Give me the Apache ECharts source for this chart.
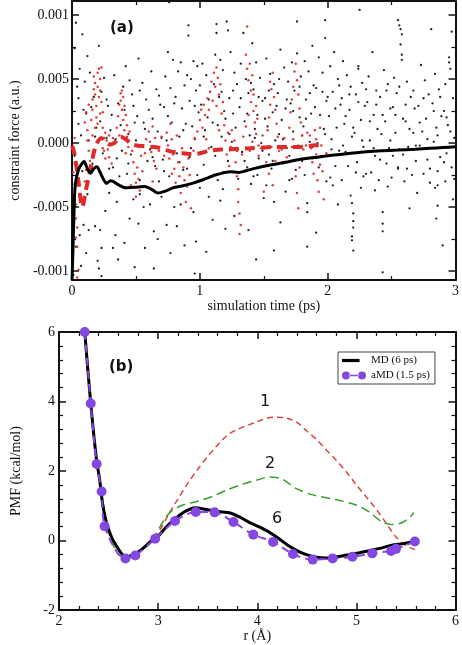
<!DOCTYPE html>
<html><head><meta charset="utf-8">
<script src="https://cdn.jsdelivr.net/npm/echarts@6/dist/echarts.min.js"></script>
<style>html,body{margin:0;padding:0;background:#fff}#c{width:462px;height:645px}</style>
</head><body><div id="c"></div>
<script>
// ---------- Panel (a): simulation time (ps) vs constraint force (values in 1e-3 a.u.) ----------
const timeTicks = [0, 1, 2, 3];
const forceTickValues = [-10, -5, 0, 5, 10];
const forceTickLabels = ['-0.001', '-0.005', '0.000', '0.005', '0.001'];
const forceMinorTicks = [-7.5, -2.5, 2.5, 7.5];

// MD instantaneous constraint force (black dots) [t, force]
const mdDots = [
[0.03,9.4],[0.08,8.5],[0.02,7.4],[0.06,5.8],[0.04,4.4],[0.09,2.6],[0.05,1.5],[0.07,0.6],[0.02,-1.0],[0.08,-2.2],[0.05,-3.0],[0.09,-6.4],[0.06,-7.2],[0.03,-8.1],[0.07,-9.6],[0.01,-10.3],
[0.12,6.8],[0.14,5.5],[0.17,3.6],[0.11,2.3],[0.19,1.2],[0.13,0.2],[0.16,-1.6],[0.12,-4.0],[0.13,-6.8],[0.18,-6.5],[0.11,-8.6],[0.2,-9.2],
[0.21,7.6],[0.25,5.1],[0.23,4.0],[0.28,2.9],[0.22,1.7],[0.27,0.4],[0.24,-0.8],[0.29,-2.0],[0.29,-3.9],[0.26,-5.3],[0.22,-6.8],[0.23,-8.2],[0.21,-9.8],[0.23,-10.4],
[0.33,5.3],[0.36,3.1],[0.31,2.2],[0.38,1.4],[0.34,0.3],[0.39,-0.6],[0.32,-1.9],[0.37,-2.6],[0.35,-4.6],[0.34,-7.2],[0.32,-8.2],[0.36,-9.1],
[0.42,6.0],[0.45,4.9],[0.47,3.8],[0.41,2.6],[0.49,1.6],[0.44,0.7],[0.46,-0.9],[0.43,-2.4],[0.48,-4.4],[0.45,-5.9],[0.41,-7.8],[0.49,-9.7],
[0.52,6.6],[0.55,4.7],[0.58,3.4],[0.51,2.1],[0.57,1.1],[0.54,-0.2],[0.59,-1.4],[0.53,-2.9],[0.56,-5.0],[0.57,-8.2],[0.52,-6.3],
[0.62,5.6],[0.66,4.2],[0.69,3.0],[0.63,1.9],[0.67,0.9],[0.61,-0.5],[0.65,-1.8],[0.68,-3.0],[0.64,-6.9],[0.67,-7.5],[0.64,-9.8],[0.61,-4.8],
[0.76,11.0],[0.75,7.1],[0.79,6.5],[0.73,5.2],[0.77,4.3],[0.72,2.8],[0.78,1.6],[0.74,0.2],[0.71,-1.3],[0.76,-2.6],[0.8,-5.0],[0.74,-6.4],[0.77,-8.6],
[0.85,6.3],[0.83,5.6],[0.88,4.5],[0.81,3.6],[0.86,2.7],[0.89,1.5],[0.84,0.5],[0.82,-0.8],[0.87,-2.1],[0.85,-4.8],[0.82,-6.5],[0.88,-8.0],
[0.91,9.2],[0.91,8.4],[0.95,6.4],[0.98,6.0],[0.93,5.0],[0.97,4.1],[0.92,3.3],[0.99,2.4],[0.94,1.3],[0.96,0.3],[0.92,-1.1],[0.98,-2.5],[0.95,-5.4],[0.97,-7.7],[0.96,-10.2],
[1.02,6.2],[1.05,5.3],[1.08,4.0],[1.01,3.0],[1.06,2.0],[1.04,1.0],[1.09,-0.3],[1.03,-1.7],[1.07,-4.2],[1.05,-8.5],[1.1,-6.0],
[1.13,9.3],[1.13,8.6],[1.12,6.9],[1.16,6.5],[1.18,5.7],[1.11,4.6],[1.15,3.6],[1.19,2.5],[1.14,1.4],[1.17,0.5],[1.12,-1.0],[1.18,-2.3],[1.16,-4.5],[1.2,-6.7],
[1.21,9.5],[1.22,8.8],[1.24,7.1],[1.27,5.5],[1.29,4.6],[1.23,3.5],[1.26,2.3],[1.28,1.2],[1.25,0.1],[1.22,-1.4],[1.3,-2.8],[1.27,-5.7],
[1.34,8.6],[1.32,6.2],[1.36,5.0],[1.38,3.9],[1.31,2.8],[1.35,1.7],[1.39,0.6],[1.33,-0.7],[1.37,-1.9],[1.4,-3.2],[1.38,-6.8],
[1.41,7.8],[1.44,6.3],[1.47,5.1],[1.42,4.2],[1.49,3.3],[1.45,2.2],[1.43,1.1],[1.48,0.0],[1.46,-1.2],[1.42,-2.6],[1.5,-4.3],[1.44,-9.1],
[1.52,6.6],[1.55,5.4],[1.58,4.6],[1.51,3.5],[1.57,2.4],[1.53,1.3],[1.59,0.2],[1.54,-0.9],[1.56,-2.0],[1.58,-4.6],[1.58,-8.4],[1.52,-3.3],
[1.63,7.3],[1.66,5.9],[1.69,4.8],[1.61,3.9],[1.67,2.7],[1.64,1.8],[1.62,0.7],[1.68,-0.4],[1.65,-1.6],[1.7,-2.9],[1.63,-6.2],
[1.76,9.5],[1.76,7.0],[1.72,6.3],[1.79,5.2],[1.74,4.1],[1.71,3.1],[1.78,2.0],[1.73,0.9],[1.77,-0.2],[1.8,-1.4],[1.72,-2.8],
[1.88,7.6],[1.82,6.4],[1.85,5.6],[1.89,4.5],[1.83,3.4],[1.87,2.3],[1.81,1.3],[1.86,0.1],[1.84,-4.7],[1.84,-5.4],[1.84,-8.1],[1.88,-1.2],[1.82,-2.5],
[1.98,9.6],[1.98,8.2],[1.93,6.7],[1.96,5.5],[1.91,4.3],[1.99,3.3],[1.94,2.2],[1.97,1.1],[1.92,0.0],[1.95,-1.0],[1.91,-7.0],[1.99,-3.0],
[2.05,7.1],[2.02,6.0],[2.08,5.0],[2.04,4.0],[2.1,3.0],[2.01,2.1],[2.07,1.2],[2.03,0.3],[2.09,-0.6],[2.06,-1.8],[2.02,-2.7],[2.08,-4.8],
[2.12,6.4],[2.15,5.3],[2.18,4.4],[2.11,3.5],[2.17,2.6],[2.13,1.5],[2.19,0.5],[2.14,-0.7],[2.16,-1.8],[2.18,-4.1],[2.19,-4.7],[2.2,-5.5],[2.2,-6.1],[2.2,-6.6],[2.19,-7.3],[2.19,-7.6],[2.2,-8.4],[2.11,-2.9],
[2.25,10.4],[2.24,6.0],[2.24,5.8],[2.27,4.7],[2.22,3.8],[2.29,2.9],[2.26,1.8],[2.21,0.8],[2.28,-0.3],[2.23,-1.5],[2.3,-2.4],[2.26,-3.5],
[2.35,7.1],[2.32,5.2],[2.38,4.1],[2.31,3.2],[2.36,2.2],[2.39,1.1],[2.33,0.2],[2.37,-1.0],[2.34,-2.3],[2.37,-3.7],[2.4,-2.9],
[2.44,5.7],[2.47,4.6],[2.41,3.6],[2.49,2.7],[2.45,1.7],[2.42,0.7],[2.48,-0.4],[2.46,-1.6],[2.43,-5.4],[2.43,-6.3],[2.43,-6.9],[2.43,-10.1],[2.5,-2.7],
[2.55,9.6],[2.56,9.2],[2.57,8.9],[2.58,8.5],[2.57,7.7],[2.58,6.9],[2.58,6.5],[2.52,5.1],[2.54,3.9],[2.51,2.8],[2.59,1.9],[2.53,0.8],[2.56,-0.5],[2.55,-1.9],[2.55,-2.0],[2.6,-3.0],
[2.62,4.8],[2.65,3.6],[2.68,2.7],[2.61,1.7],[2.67,0.8],[2.63,-0.3],[2.69,-1.4],[2.66,-2.5],[2.7,-3.9],[2.64,-5.1],
[2.73,6.1],[2.76,4.9],[2.79,3.8],[2.71,2.9],[2.77,1.9],[2.74,0.9],[2.72,-0.2],[2.78,-1.3],[2.75,-2.4],[2.8,-3.1],
[2.81,8.9],[2.84,5.4],[2.87,4.2],[2.82,3.1],[2.89,2.1],[2.85,1.2],[2.83,0.1],[2.88,-1.1],[2.86,-2.2],[2.84,-3.5],[2.86,-3.3],[2.86,-4.9],[2.85,-5.9],[2.9,-8.0],
[2.97,8.7],[2.95,6.7],[2.95,6.3],[2.96,5.8],[2.92,4.6],[2.98,3.5],[2.91,2.5],[2.94,1.4],[2.99,0.4],[2.93,-0.8],[2.97,-1.9],[2.92,-3.0],[2.98,-4.4],
[0.05,3.5],[0.1,4.8],[0.15,2.8],[0.18,0.5],[0.27,3.4],[0.3,1.0],[0.35,-1.2],[0.4,4.4],[0.44,-1.6],[0.48,2.9],[0.5,0.2],[0.53,4.1],[0.56,1.6],[0.6,2.6],[0.63,-1.1],[0.68,3.7],[0.7,0.4],[0.72,-2.2],[0.75,2.1],[0.8,3.1],[0.84,-1.5],[0.87,1.0],[0.9,5.3],[0.93,-0.4],[0.96,2.9],[1.0,4.5],[1.03,0.5],[1.07,3.4],[1.1,1.6],[1.14,-2.9],[1.17,4.0],[1.2,1.9],[1.23,0.7],[1.26,4.1],[1.29,-0.6],[1.32,3.5],[1.35,-1.4],[1.37,2.3],[1.4,4.7],[1.43,0.4],[1.46,3.6],[1.49,-0.6],[1.51,1.9],[1.54,4.1],[1.57,-1.4],[1.6,2.9],[1.62,5.0],[1.65,0.3],[1.68,3.4],[1.7,-1.0],[1.73,2.5],[1.75,-2.1],[1.78,4.4],[1.8,0.6],[1.83,1.9],[1.86,3.9],[1.88,-0.3],[1.9,2.8],[1.93,-1.9],[1.96,4.0],[1.98,0.7],[2.0,3.6],[2.03,-0.5],[2.06,2.7],[2.09,4.5],[2.12,-0.2],[2.14,2.1],[2.17,3.8],[2.2,1.2],[2.22,-2.3],[2.24,3.2],[2.27,0.2],[2.3,4.2],[2.33,1.7],[2.36,-0.4],[2.38,3.0],[2.41,-1.3],[2.43,2.2],[2.46,4.1],[2.49,0.2],[2.51,-1.0],[2.53,2.2],[2.56,4.4],[2.59,-0.9],[2.61,3.0],[2.64,1.1],[2.67,4.1],[2.69,-0.2],[2.72,1.6],[2.75,3.5],[2.78,0.3],[2.8,-2.0],[2.83,2.5],[2.86,0.6],[2.88,3.6],[2.91,-1.5],[2.93,2.0],[2.96,0.9],[2.99,-2.8],[2.62,-2.0],[2.47,-3.4],[2.28,-2.6],[2.04,-3.3],[1.67,-3.8],[1.45,-2.5],[1.18,-3.6],[1.0,-3.5],[0.9,-2.0],[0.7,-4.2],[0.53,-4.0]
];

// aMD instantaneous constraint force (red dots) [t, force]
const amdDots = [
[0.01,-0.8],[0.02,-1.6],[0.02,-3.2],[0.03,-4.8],[0.03,-5.9],[0.04,-6.6],[0.03,-7.4],[0.04,-8.1],[0.05,-9.9],[0.04,-10.5],[0.02,0.4],[0.01,-2.3],
[0.10,1.6],[0.11,2.4],[0.12,1.0],[0.12,0.2],[0.13,-0.6],[0.14,-1.4],[0.11,-2.1],[0.13,3.0],[0.10,-3.0],
[0.15,1.8],[0.16,2.6],[0.16,3.4],[0.17,4.2],[0.17,5.2],[0.18,4.7],[0.18,3.8],[0.19,2.9],[0.19,2.0],[0.20,5.5],[0.20,4.4],[0.21,3.6],[0.21,5.8],[0.22,5.0],[0.22,4.1],[0.23,5.9],[0.23,3.2],[0.24,2.4],[0.24,1.2],[0.25,0.4],[0.25,-0.6],[0.26,-1.2],[0.26,0.8],[0.18,1.2],[0.16,0.6],[0.2,1.5],[0.22,2.3],[0.24,-0.4],
[0.27,0.2],[0.28,-0.5],[0.29,-1.1],[0.30,-0.2],[0.31,-1.6],[0.29,0.6],[0.32,0.4],
[0.35,1.2],[0.36,2.1],[0.37,3.0],[0.38,3.9],[0.38,3.3],[0.39,2.6],[0.40,3.6],[0.40,1.8],[0.41,2.9],[0.41,1.0],[0.42,2.2],[0.43,0.5],[0.43,1.4],[0.44,-0.3],[0.37,0.6],[0.39,4.1],[0.42,-0.8],[0.45,0.9],
[0.47,-0.6],[0.48,-1.5],[0.49,-2.4],[0.50,-3.1],[0.51,-1.9],[0.52,-2.8],[0.53,-3.7],[0.54,-1.0],[0.55,-2.2],[0.50,-4.2],[0.46,-3.3],[0.52,-0.3],[0.57,-0.8],[0.58,0.3],
[0.60,0.9],[0.61,0.1],[0.62,-0.7],[0.63,1.3],[0.64,-1.4],[0.65,0.4],[0.66,-2.0],[0.63,-3.0],[0.68,-0.6],[0.70,0.5],
[0.74,0.8],[0.75,-0.2],[0.76,-1.2],[0.77,1.5],[0.78,0.3],[0.79,-0.9],[0.80,-2.0],[0.81,-3.1],[0.82,0.6],[0.83,-1.5],[0.84,-2.6],[0.85,-3.9],[0.86,-0.4],[0.87,-1.9],[0.88,-2.9],[0.89,-4.6],[0.90,-3.4],[0.91,-1.2],[0.92,-2.5],[0.93,-5.1],[0.78,-2.4],[0.72,-1.0],[0.95,-0.6],[0.96,0.4],
[0.98,0.9],[1.00,1.8],[1.01,2.6],[1.02,1.2],[1.03,3.0],[1.04,2.2],[1.05,0.3],[1.06,3.5],[1.07,2.6],[1.08,4.0],[1.09,4.8],[1.10,3.3],[1.11,5.5],[1.12,4.4],[1.13,5.9],[1.13,2.9],[1.14,5.1],[1.15,3.8],[1.16,4.6],[1.17,2.3],[1.18,3.2],[1.19,1.4],[1.20,0.2],[1.21,-0.9],[1.22,0.8],[1.23,-1.8],[1.15,1.0],[1.11,-0.5],[1.07,-0.4],[1.24,-0.3],
[1.28,-1.5],[1.29,-2.6],[1.30,-3.6],[1.30,-4.6],[1.31,-5.5],[1.32,-6.4],[1.31,-7.1],[1.29,-0.6],[1.25,1.0],[1.27,0.2],[1.33,-0.9],[1.34,0.5],
[1.37,9.1],[1.36,6.9],[1.37,5.8],[1.38,4.9],[1.39,6.2],[1.40,4.1],[1.40,3.2],[1.41,5.3],[1.42,2.5],[1.42,3.8],[1.43,1.6],[1.44,2.9],[1.44,0.7],[1.45,1.9],[1.46,-0.2],[1.38,2.2],[1.36,1.3],[1.41,0.1],[1.46,-1.0],[1.39,-0.6],[1.48,-0.4],[1.49,0.6],
[1.53,1.0],[1.54,2.0],[1.55,3.0],[1.56,4.2],[1.57,5.5],[1.58,3.6],[1.59,2.6],[1.60,1.5],[1.61,0.5],[1.62,-0.6],[1.56,-0.3],[1.52,-1.5],[1.54,-2.4],[1.57,-3.3],[1.50,-3.8],[1.59,-1.4],[1.55,4.8],[1.64,-0.5],[1.66,0.4],[1.68,-1.1],
[1.70,1.2],[1.71,2.4],[1.72,3.4],[1.73,4.4],[1.74,5.6],[1.75,6.2],[1.76,4.9],[1.77,3.8],[1.78,2.7],[1.79,1.6],[1.80,0.6],[1.81,-0.5],[1.74,-1.4],[1.75,-2.6],[1.76,-3.9],[1.77,-5.1],[1.72,-0.3],[1.78,-1.9],[1.73,0.3],[1.83,-0.2],[1.84,0.8],
[1.86,0.6],[1.87,-0.4],[1.88,-1.5],[1.89,-2.4],[1.90,1.0],[1.91,-0.9],[1.92,-2.9],[1.93,-3.8],[1.94,-1.7],[1.95,-0.2],[1.96,-2.2],[1.97,-4.4],[1.91,0.3],[1.94,1.2],[1.99,-0.8]
];

// Running averages [t, force]
const mdAverage = [
[0,-10.7],[0.005,-9.0],[0.01,-7.2],[0.015,-5.5],[0.02,-4.0],[0.03,-2.9],[0.05,-2.1],[0.07,-1.7],[0.095,-1.45],[0.12,-2.0],[0.145,-2.35],[0.17,-2.0],[0.195,-1.85],[0.22,-2.3],[0.25,-2.9],[0.27,-3.15],[0.3,-2.95],[0.32,-3.0],[0.37,-3.3],[0.42,-3.5],[0.5,-3.45],[0.57,-3.4],[0.62,-3.6],[0.67,-3.9],[0.73,-3.75],[0.79,-3.5],[0.86,-3.35],[0.94,-3.15],[1.03,-2.85],[1.12,-2.5],[1.24,-2.24],[1.3,-2.3],[1.42,-2.0],[1.55,-1.72],[1.67,-1.5],[1.8,-1.25],[1.92,-1.1],[2.05,-0.94],[2.18,-0.8],[2.3,-0.68],[2.42,-0.6],[2.55,-0.55],[2.68,-0.48],[2.8,-0.41],[2.9,-0.35],[3.0,-0.29]
];
const amdAverage = [
[0,-0.2],[0.02,-0.9],[0.05,-3.0],[0.08,-5.0],[0.11,-3.6],[0.14,-2.2],[0.16,-1.2],[0.19,-0.1],[0.23,0.4],[0.26,0.1],[0.29,-0.1],[0.33,0.0],[0.38,0.5],[0.42,0.3],[0.47,-0.1],[0.52,-0.2],[0.57,-0.25],[0.62,-0.3],[0.67,-0.35],[0.72,-0.5],[0.77,-0.65],[0.82,-0.75],[0.87,-0.8],[0.92,-0.85],[0.97,-0.85],[1.02,-0.75],[1.07,-0.6],[1.12,-0.55],[1.17,-0.5],[1.22,-0.5],[1.3,-0.45],[1.4,-0.4],[1.5,-0.35],[1.6,-0.3],[1.7,-0.3],[1.8,-0.28],[1.9,-0.18],[1.97,-0.15]
];

// ---------- Panel (b): r (Å) vs PMF (kcal/mol) ----------
const mdPMF = [
[2.26,6.0],[2.30,4.6],[2.34,3.35],[2.38,2.3],[2.41,1.75],[2.44,1.05],[2.48,0.5],[2.53,0.1],[2.58,-0.16],[2.63,-0.37],[2.67,-0.47],[2.74,-0.42],[2.81,-0.31],[2.87,-0.17],[2.93,-0.02],[3.0,0.12],[3.08,0.38],[3.17,0.62],[3.25,0.8],[3.32,0.9],[3.38,0.94],[3.47,0.9],[3.57,0.85],[3.65,0.82],[3.72,0.8],[3.82,0.68],[3.92,0.52],[4.02,0.39],[4.12,0.24],[4.22,0.05],[4.32,-0.16],[4.42,-0.32],[4.52,-0.43],[4.6,-0.48],[4.69,-0.5],[4.8,-0.47],[4.9,-0.42],[5.02,-0.36],[5.15,-0.28],[5.25,-0.22],[5.35,-0.14],[5.47,-0.09],[5.59,-0.03]
];
const amdPMF = [
[2.26,6.0],[2.32,3.94],[2.38,2.2],[2.43,1.41],[2.46,0.41],[2.67,-0.52],[2.77,-0.43],[2.97,0.05],[3.17,0.56],[3.38,0.82],[3.57,0.81],[3.76,0.53],[3.96,0.17],[4.16,-0.04],[4.36,-0.39],[4.56,-0.55],[4.76,-0.52],[4.96,-0.47],[5.16,-0.37],[5.35,-0.3],[5.40,-0.24],[5.59,-0.03]
];
const pmf1 = [
[2.26,6.0],[2.30,4.6],[2.34,3.35],[2.38,2.3],[2.42,1.6],[2.46,0.8],[2.5,0.25],[2.55,-0.15],[2.6,-0.4],[2.67,-0.52],[2.74,-0.45],[2.8,-0.33],[2.87,-0.15],[2.95,0.08],[3.0,0.22],[3.1,0.72],[3.2,1.2],[3.3,1.65],[3.4,2.05],[3.5,2.42],[3.6,2.75],[3.7,3.03],[3.8,3.2],[3.9,3.31],[4.0,3.42],[4.1,3.52],[4.2,3.55],[4.3,3.52],[4.4,3.4],[4.5,3.15],[4.6,2.9],[4.7,2.6],[4.8,2.3],[4.9,1.97],[5.0,1.6],[5.1,1.25],[5.2,0.9],[5.3,0.5],[5.4,0.1],[5.5,-0.15],[5.59,-0.26]
];
const pmf2 = [
[2.26,6.0],[2.30,4.6],[2.34,3.35],[2.38,2.3],[2.42,1.6],[2.46,0.8],[2.5,0.25],[2.55,-0.15],[2.6,-0.4],[2.67,-0.5],[2.74,-0.44],[2.8,-0.32],[2.87,-0.15],[2.95,0.06],[3.02,0.4],[3.08,0.68],[3.15,0.88],[3.25,1.02],[3.4,1.13],[3.55,1.27],[3.7,1.46],[3.85,1.62],[4.0,1.74],[4.12,1.83],[4.25,1.77],[4.39,1.5],[4.55,1.32],[4.79,1.18],[4.99,1.03],[5.12,0.84],[5.25,0.55],[5.35,0.46],[5.44,0.49],[5.52,0.62],[5.58,0.8]
];
const curveLabels = [
  {name: '1', value: [4.08, 4.0]},
  {name: '2', value: [4.13, 2.2]},
  {name: '6', value: [4.2, 0.63]}
];

const serif = "'Liberation Serif', 'DejaVu Serif', serif";
const sans = "'DejaVu Sans', 'Liberation Sans', sans-serif";
const axisLineStyle = {show: true, onZero: false, lineStyle: {color: '#111', width: 2}};

function xAx(grid, pos, min, max, interval, split, labels, name) {
  return {
    type: 'value', gridIndex: grid, position: pos, min: min, max: max, interval: interval,
    axisLine: axisLineStyle,
    axisTick: {show: true, inside: true, length: 7, lineStyle: {color: '#111', width: 1.5}},
    minorTick: {show: true, splitNumber: split, length: 4, lineStyle: {color: '#111', width: 1.2}},
    splitLine: {show: false}, minorSplitLine: {show: false},
    axisLabel: {show: labels, color: '#111', fontFamily: serif, fontSize: 14, margin: 4},
    name: name || '', nameLocation: 'middle', nameGap: 19,
    nameTextStyle: {color: '#111', fontFamily: serif, fontSize: 14}
  };
}

// legend icons: short thick bar; two dots joined by a line
const mdIcon = 'path://M0,0 M0,4 L22,4 L22,8 L0,8 Z M30,12';
const amdIcon = 'path://M0,6 A5,5 0 1,0 10,6 A5,5 0 1,0 0,6 Z M9,5 L21,5 L21,7 L9,7 Z M20,6 A5,5 0 1,0 30,6 A5,5 0 1,0 20,6 Z M0,0 M30,12';

const option = {
  animation: false,
  backgroundColor: '#fff',
  grid: [
    {left: 57, top: 1, width: 402, height: 279},
    {left: 59, top: 332, width: 399, height: 278}
  ],
  xAxis: [
    xAx(0, 'bottom', 0, 3, 1, 2, true, 'simulation time (ps)'),
    xAx(0, 'top', 0, 3, 1, 2, false),
    xAx(1, 'bottom', 2, 6, 1, 5, true, 'r (Å)'),
    xAx(1, 'top', 2, 6, 1, 5, false)
  ],
  yAxis: [
    {type: 'value', gridIndex: 0, position: 'left', min: -10.7, max: 11.1,
     axisLine: axisLineStyle, splitLine: {show: false},
     axisTick: {show: true, inside: true, length: 7, customValues: forceTickValues, lineStyle: {color: '#111', width: 1.5}},
     axisLabel: {show: true, customValues: forceTickValues, color: '#111', fontFamily: serif, fontSize: 14, margin: 3,
       formatter: function (v) { const i = forceTickValues.indexOf(v); return i >= 0 ? forceTickLabels[i] : ''; }},
     name: 'constraint force (a.u.)', nameLocation: 'middle', nameGap: 47,
     nameTextStyle: {color: '#111', fontFamily: serif, fontSize: 14}},
    {type: 'value', gridIndex: 0, position: 'left', min: -10.7, max: 11.1,
     axisLine: {show: false, onZero: false}, splitLine: {show: false}, axisLabel: {show: false},
     axisTick: {show: true, inside: true, length: 4, customValues: forceMinorTicks, lineStyle: {color: '#111', width: 1.2}}},
    {type: 'value', gridIndex: 0, position: 'right', min: -10.7, max: 11.1,
     axisLine: axisLineStyle, splitLine: {show: false}, axisLabel: {show: false},
     axisTick: {show: true, inside: true, length: 7, customValues: forceTickValues, lineStyle: {color: '#111', width: 1.5}}},
    {type: 'value', gridIndex: 0, position: 'right', min: -10.7, max: 11.1,
     axisLine: {show: false, onZero: false}, splitLine: {show: false}, axisLabel: {show: false},
     axisTick: {show: true, inside: true, length: 4, customValues: forceMinorTicks, lineStyle: {color: '#111', width: 1.2}}},
    {type: 'value', gridIndex: 1, position: 'left', min: -2, max: 6, interval: 2,
     axisLine: axisLineStyle, splitLine: {show: false}, minorSplitLine: {show: false},
     axisTick: {show: true, inside: true, length: 7, lineStyle: {color: '#111', width: 1.5}},
     minorTick: {show: true, splitNumber: 5, length: 4, lineStyle: {color: '#111', width: 1.2}},
     axisLabel: {color: '#111', fontFamily: serif, fontSize: 14, margin: 4},
     name: 'PMF (kcal/mol)', nameLocation: 'middle', nameGap: 36,
     nameTextStyle: {color: '#111', fontFamily: serif, fontSize: 14}},
    {type: 'value', gridIndex: 1, position: 'right', min: -2, max: 6, interval: 2,
     axisLine: axisLineStyle, splitLine: {show: false}, minorSplitLine: {show: false},
     axisTick: {show: true, inside: true, length: 7, lineStyle: {color: '#111', width: 1.5}},
     minorTick: {show: true, splitNumber: 5, length: 4, lineStyle: {color: '#111', width: 1.2}},
     axisLabel: {show: false}}
  ],
  legend: {
    left: 338, top: 352, orient: 'vertical', itemWidth: 24, itemHeight: 10, itemGap: 4,
    padding: [3, 5, 3, 4], borderColor: '#444', borderWidth: 1, backgroundColor: '#fff',
    textStyle: {fontFamily: serif, fontSize: 11, color: '#111'},
    data: [
      {name: 'MD (6 ps)', icon: mdIcon, itemStyle: {color: '#000'}},
      {name: 'aMD (1.5 ps)', icon: amdIcon, itemStyle: {color: '#8447e0'}}
    ]
  },
  graphic: [
    {type: 'text', left: 110, top: 21, style: {text: '(a)', font: "bold 15px 'DejaVu Sans'", fill: '#111'}},
    {type: 'text', left: 109, top: 360, style: {text: '(b)', font: "bold 15px 'DejaVu Sans'", fill: '#111'}}
  ],
  series: [
    {type: 'scatter', name: 'MD force', xAxisIndex: 0, yAxisIndex: 0, data: mdDots,
     symbolSize: 2.3, itemStyle: {color: '#222', opacity: 1}, silent: true},
    {type: 'scatter', name: 'aMD force', xAxisIndex: 0, yAxisIndex: 0, data: amdDots,
     symbolSize: 2.5, itemStyle: {color: '#e23c3c', opacity: 1}, silent: true},
    {type: 'line', name: 'aMD average', xAxisIndex: 0, yAxisIndex: 0, data: amdAverage,
     showSymbol: false, smooth: 0.3, lineStyle: {color: '#e02a2a', width: 4, type: [10, 6]}},
    {type: 'line', name: 'MD average', xAxisIndex: 0, yAxisIndex: 0, data: mdAverage,
     showSymbol: false, smooth: 0.2, lineStyle: {color: '#000', width: 3}},

    {type: 'line', name: 'PMF 1', xAxisIndex: 2, yAxisIndex: 4, data: pmf1,
     showSymbol: false, smooth: 0.3, lineStyle: {color: '#d9443f', width: 1.5, type: [6, 4]}},
    {type: 'line', name: 'PMF 2', xAxisIndex: 2, yAxisIndex: 4, data: pmf2,
     showSymbol: false, smooth: 0.3, lineStyle: {color: '#35a02a', width: 1.5, type: [9, 5]}},
    {type: 'line', name: 'MD (6 ps)', xAxisIndex: 2, yAxisIndex: 4, data: mdPMF,
     showSymbol: false, smooth: 0.3, itemStyle: {color: '#000'}, lineStyle: {color: '#000', width: 3}},
    {type: 'line', name: 'aMD (1.5 ps)', xAxisIndex: 2, yAxisIndex: 4, data: amdPMF,
     symbol: 'circle', symbolSize: 10, smooth: 0.3, itemStyle: {color: '#8447e0', opacity: 1},
     lineStyle: {color: '#8447e0', width: 2, type: [8, 5]}},
    {type: 'scatter', name: 'labels', xAxisIndex: 2, yAxisIndex: 4, data: curveLabels,
     symbolSize: 1, silent: true, itemStyle: {color: '#fff', opacity: 0},
     label: {show: true, position: 'inside', formatter: '{b}', fontFamily: sans, fontSize: 16, color: '#111', opacity: 1, textBorderWidth: 0}}
  ]
};

const chart = echarts.init(document.getElementById('c'), null, {renderer: 'canvas'});
chart.setOption(option);
</script>
</body></html>
